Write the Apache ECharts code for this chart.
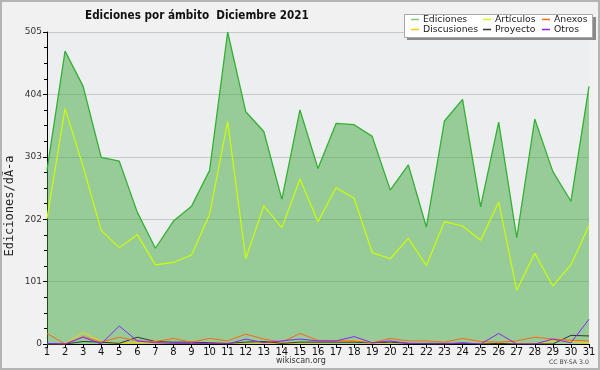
<!DOCTYPE html>
<html><head><meta charset="utf-8">
<script src="https://cdn.jsdelivr.net/npm/echarts@6/dist/echarts.min.js"></script>
<style>
html,body{margin:0;padding:0;background:#f1f1f1;}
#c{width:600px;height:370px;}
</style></head><body>
<div id="c"></div>
<script>
const days = ['1','2','3','4','5','6','7','8','9','10','11','12','13','14','15','16','17','18','19','20','21','22','23','24','25','26','27','28','29','30','31'];
const ediciones = [281,474,417,302,296,213,155,199,223,281,505,376,344,234,379,284,357,355,336,249,290,189,361,396,222,359,172,364,279,231,417];
const articulos = [203,381,287,184,156,177,128,132,144,210,360,138,224,188,267,198,253,236,148,138,171,127,198,191,168,230,87,147,94,128,192];
const anexos = [17,0,12,3,11,5,4,9,3,9,5,16,8,3,17,6,5,5,2,9,5,5,3,9,4,3,5,11,8,6,5];
const discusiones = [0,0,19,4,1,2,1,1,1,3,1,2,1,1,2,2,3,6,1,2,1,1,1,1,1,1,1,1,4,4,2];
const proyecto = [0,0,4,3,1,11,4,3,3,2,1,3,4,1,3,3,3,3,2,3,1,1,1,1,0,1,0,0,0,14,13];
const otros = [1,0,11,0,29,5,2,1,1,1,0,8,2,5,8,5,5,12,2,5,1,0,0,2,0,17,0,0,8,2,40];
const yTicks = [0,101,202,303,404,505];

const FONT = 'DejaVu Sans';
const chart = echarts.init(document.getElementById('c'), null, {renderer:'canvas'});
function lg(name, left, top){
  return {data:[name], left:left, top:top, itemWidth:8, itemHeight:1.5, icon:'rect', padding:0,
    textStyle:{fontFamily:FONT, fontSize:9.3, color:'#222', padding:[0,0,0,-1]}, selectedMode:false};
}
function ln(name, data, color, w){
  return {name:name, type:'line', data:data, showSymbol:false, symbol:'none', z:3,
    lineStyle:{color:color, width:w||1}, itemStyle:{color:color}};
}
chart.setOption({
  animation:false,
  backgroundColor:'#f1f1f1',
  graphic:[
    {type:'rect', shape:{x:1, y:1, width:598, height:368}, style:{fill:'none', stroke:'#b4b4b4', lineWidth:2}, z:100},
    {type:'text', x:85, y:16, scaleX:0.87, style:{text:'Ediciones por ámbito  Diciembre 2021', fontFamily:FONT, fontWeight:'bold', fontSize:12, fill:'#111', verticalAlign:'middle'}},
    {type:'text', x:10, y:206, rotation:Math.PI/2, style:{text:'Ediciones/dÃ-a', fontFamily:'DejaVu Sans Mono', fontSize:12, fill:'#222', align:'center', verticalAlign:'middle'}},
    {type:'rect', shape:{x:407, y:17, width:189, height:23}, style:{fill:'#8a8a8a'}, z:0},
    {type:'rect', shape:{x:404.5, y:14.5, width:188, height:23}, style:{fill:'#ffffff', stroke:'#a8a8a8', lineWidth:1}, z:1},
    {type:'text', x:276, y:361, style:{text:'wikiscan.org', fontFamily:FONT, fontSize:8, fill:'#333', verticalAlign:'middle'}},
    {type:'text', x:549, y:362, style:{text:'CC BY-SA 3.0', fontFamily:FONT, fontSize:6.2, fill:'#444', verticalAlign:'middle'}}
  ],
  legend:[
    lg('Ediciones', 411, 15), lg('Artículos', 483, 15), lg('Anexos', 542, 15),
    lg('Discusiones', 411, 25), lg('Proyecto', 483, 25), lg('Otros', 542, 25)
  ],
  grid:{left:47, right:11, top:32, bottom:26, show:true, backgroundColor:'#eceef0', borderWidth:0},
  xAxis:{type:'category', data:days, boundaryGap:false,
    axisLine:{lineStyle:{color:'#000', width:1}},
    axisTick:{show:true, length:4, lineStyle:{color:'#000'}},
    axisLabel:{interval:0, fontFamily:FONT, fontSize:10, color:'#111', margin:3},
    splitLine:{show:false}},
  yAxis:[
    {type:'value', min:0, max:505, interval:101,
    axisLine:{show:true, lineStyle:{color:'#000', width:1}},
    axisTick:{show:true, length:4, lineStyle:{color:'#000'}},
    axisLabel:{fontFamily:FONT, fontSize:9, color:'#333', margin:5,
      formatter:function(v){return yTicks.indexOf(v)>=0? String(v):'';}},
    splitLine:{show:true, lineStyle:{color:'#c8c8c8', width:1}}},
    {type:'value', min:0, max:505, interval:25.25, position:'left',
    axisLine:{show:false}, axisLabel:{show:false}, splitLine:{show:false},
    axisTick:{show:true, length:3, lineStyle:{color:'#000'}}}
  ],
  series:[
    {name:'Ediciones', type:'line', data:ediciones, showSymbol:false, symbol:'none', z:2,
      lineStyle:{color:'#33b033', width:1.3}, itemStyle:{color:'#7fcc7f'},
      areaStyle:{color:'rgba(55,165,55,0.47)', opacity:1}},
    ln('Artículos', articulos, '#ccff00', 1.2),
    ln('Discusiones', discusiones, '#ffcc00', 1),
    ln('Proyecto', proyecto, '#333333', 1),
    ln('Anexos', anexos, '#ff6611', 1),
    ln('Otros', otros, '#8822ff', 1)
  ]
});
</script></body></html>
